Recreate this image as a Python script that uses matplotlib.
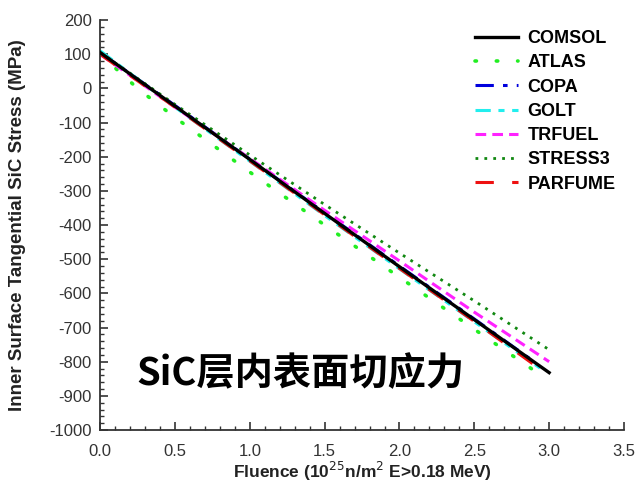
import matplotlib.pyplot as plt
from matplotlib.ticker import MultipleLocator

plt.rcParams['font.family'] = ['Liberation Sans', 'DejaVu Sans']
plt.rcParams['axes.unicode_minus'] = False

# fluence (1e25 n/m^2) and inner-surface tangential SiC stress (MPa) per code
x_comsol = [0.0, 0.5, 1.0, 1.5, 2.0, 2.5, 3.0]
y_comsol = [105, -52, -208, -366, -522, -677, -832]

x_atlas = [0.0, 0.25, 0.5, 1.0, 1.5, 2.0, 2.5, 2.9]
y_atlas = [100, 0, -85, -245, -400, -553, -705, -826]

x_copa = [0.0, 0.5, 1.0, 1.5, 2.0, 2.5, 2.9]
y_copa = [105, -50, -207, -364, -520, -675, -800]

x_golt = [0.0, 0.5, 1.0, 1.5, 2.0, 2.5, 2.95]
y_golt = [110, -55, -213, -372, -528, -683, -822]

x_trfuel = [0.0, 0.5, 1.0, 1.5, 2.0, 2.5, 3.0]
y_trfuel = [100, -55, -205, -357, -505, -655, -800]

x_stress3 = [0.0, 0.5, 1.0, 1.5, 2.0, 2.5, 3.0]
y_stress3 = [105, -47, -195, -340, -482, -622, -765]

x_parfume = [0.0, 0.5, 1.0, 1.5, 2.0, 2.5, 2.95]
y_parfume = [100, -55, -212, -370, -527, -682, -825]

fig = plt.figure(figsize=(6.38, 4.90), dpi=100)
ax = fig.add_axes([0.157, 0.1224, 0.821, 0.8366])

ax.plot(x_comsol, y_comsol, color='black', lw=2.4, label='COMSOL', zorder=8)
ax.plot(x_atlas, y_atlas, color='#22ee22', lw=2.6, linestyle=(0, (0.4, 5.5)),
        dash_capstyle='round', label='ATLAS')
ax.plot(x_copa, y_copa, color='#0000dd', lw=2.2, linestyle=(0, (6, 3, 1.5, 3)),
        label='COPA')
ax.plot(x_golt, y_golt, color='#22eeee', lw=2.2, linestyle=(0, (5, 2.5, 2, 2.5)),
        label='GOLT')
ax.plot(x_trfuel, y_trfuel, color='#ff22ff', lw=2.2, linestyle=(0, (3.5, 2)),
        label='TRFUEL')
ax.plot(x_stress3, y_stress3, color='#118811', lw=2.0, linestyle=(0, (1, 2.2)),
        label='STRESS3')
ax.plot(x_parfume, y_parfume, color='#ee1111', lw=2.2, linestyle=(0, (6, 6)),
        label='PARFUME')

ax.set_xlim(0, 3.5)
ax.set_ylim(-1000, 200)
ax.xaxis.set_major_locator(MultipleLocator(0.5))
ax.xaxis.set_minor_locator(MultipleLocator(0.1))
ax.yaxis.set_major_locator(MultipleLocator(100))
ax.yaxis.set_minor_locator(MultipleLocator(20))
ax.xaxis.set_major_formatter(plt.FormatStrFormatter('%.1f'))

for side in ['top', 'right']:
    ax.spines[side].set_visible(False)
for side in ['left', 'bottom']:
    ax.spines[side].set_color('#333333')
    ax.spines[side].set_linewidth(1.3)
ax.tick_params(which='major', direction='in', length=6, width=1.2,
               color='#333333', labelsize=12, labelcolor='#333333')
ax.tick_params(axis='x', which='major', pad=10)
ax.tick_params(axis='y', which='major', pad=6)
ax.tick_params(which='minor', direction='in', length=3, width=1.0, color='#333333')

ax.set_xlabel('Fluence (10$^{25}$n/m$^2$ E>0.18 MeV)', fontsize=12.5,
              fontweight='bold', color='#222222')
ax.set_ylabel('Inner Surface Tangential SiC Stress (MPa)', fontsize=13.5,
              fontweight='bold', color='#222222')
ax.xaxis.set_label_coords(0.5, -0.072)
ax.yaxis.set_label_coords(-0.142, 0.5)

leg = ax.legend(loc='upper right', bbox_to_anchor=(1.015, 1.015), frameon=False,
                prop={'weight': 'bold', 'size': 13}, handlelength=2.4,
                labelspacing=0.4, handletextpad=0.5)

ax.text(0.24, -870, 'SiC层内表面切应力', fontsize=27.5, fontweight='heavy',
        family=['Noto Sans CJK SC', 'DejaVu Sans'], color='black')

fig.savefig('out.png', dpi=100)
